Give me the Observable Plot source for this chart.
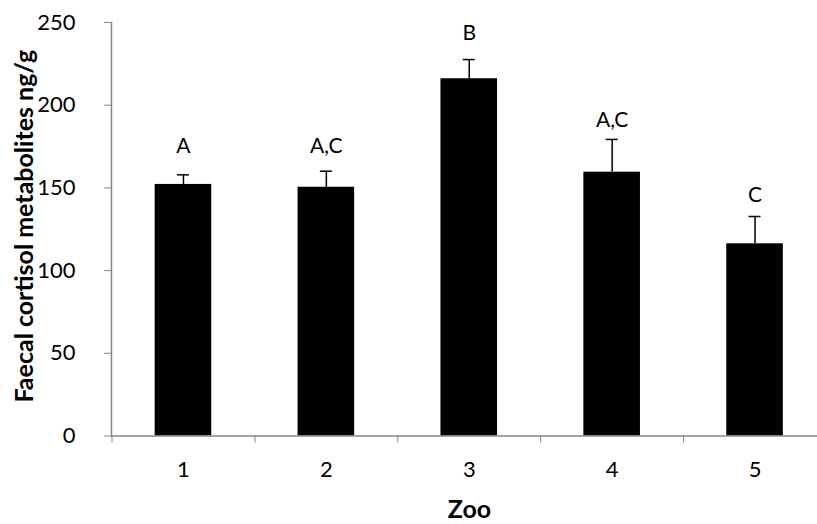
<!DOCTYPE html>
<html>
<head>
<meta charset="utf-8">
<script src="https://cdn.jsdelivr.net/npm/d3@7"></script>
<script src="https://cdn.jsdelivr.net/npm/@observablehq/plot@0.6"></script>
<style>
  html, body { margin: 0; padding: 0; background: #fff; }
  #chart { width: 817px; height: 524px; }
</style>
</head>
<body>
<div id="chart"></div>
<script>
const zoos = [1, 2, 3, 4, 5];
const means = [152.1, 150.4, 216.0, 159.5, 116.2];
const errors = [5.8, 9.7, 11.6, 19.8, 16.5];
const letters = ["A", "A,C", "B", "A,C", "C"];
const letterY = [171.2, 171.2, 239.4, 187.1, 141.4];
const yTicks = [0, 50, 100, 150, 200, 250];
const xBoundaries = [0.5, 1.5, 2.5, 3.5, 4.5, 5.5];

const data = zoos.map((z, i) => ({
  zoo: z, value: means[i], se: errors[i], top: means[i] + errors[i],
  letter: letters[i], ly: letterY[i]
}));

const gray = "#868686";
const font = "Lato, 'Open Sans', sans-serif";
const halfBar = 0.198;
const halfCap = 0.042;

const chart = Plot.plot({
  width: 817,
  height: 524,
  marginLeft: 111,
  marginRight: 0,
  marginTop: 22,
  marginBottom: 88.5,
  style: { fontFamily: font, background: "#fff", overflow: "hidden" },
  x: { type: "linear", domain: [0.5, 5.5], range: [111.5, 826] },
  y: { domain: [0, 250], range: [435.5, 22] },
  marks: [
    Plot.rectY(data, { x1: d => d.zoo - halfBar, x2: d => d.zoo + halfBar, y: "value", fill: "black" }),
    Plot.ruleX(data, { x: "zoo", y1: "value", y2: "top", stroke: "black", strokeWidth: 1.5 }),
    Plot.ruleY(data, { y: "top", x1: d => d.zoo - halfCap, x2: d => d.zoo + halfCap, stroke: "black", strokeWidth: 1.5 }),
    Plot.text(data, { x: "zoo", y: "ly", text: "letter", lineAnchor: "bottom", fontSize: 21, fill: "black" }),
    Plot.axisY({ ticks: yTicks, tickSize: 7, tickPadding: 29, fontSize: 22, stroke: gray, fill: "black", label: null, tickFormat: d => String(d) }),
    Plot.axisX({ ticks: xBoundaries, tickSize: 7, tickFormat: () => "", stroke: gray, label: null }),
    Plot.axisX({ ticks: zoos, tickSize: 0, tickPadding: 25, fontSize: 22, fill: "black", label: null, tickFormat: d => String(d) }),
    Plot.frame({ anchor: "left", stroke: gray, strokeWidth: 1.5 }),
    Plot.ruleY([0], { stroke: gray, strokeWidth: 1.5 }),
    Plot.text(["Faecal cortisol metabolites ng/g"], { frameAnchor: "left", textAnchor: "middle", rotate: -90, dx: -87, dy: -3, text: d => d, fontSize: 25, letterSpacing: 0.9, fontWeight: "bold", fill: "black" }),
    Plot.text(["Zoo"], { frameAnchor: "bottom", lineAnchor: "bottom", dy: 82, dx: 5, text: d => d, fontSize: 25, fontWeight: "bold", fill: "black" })
  ]
});
document.getElementById("chart").appendChild(chart);
</script>
</body>
</html>
